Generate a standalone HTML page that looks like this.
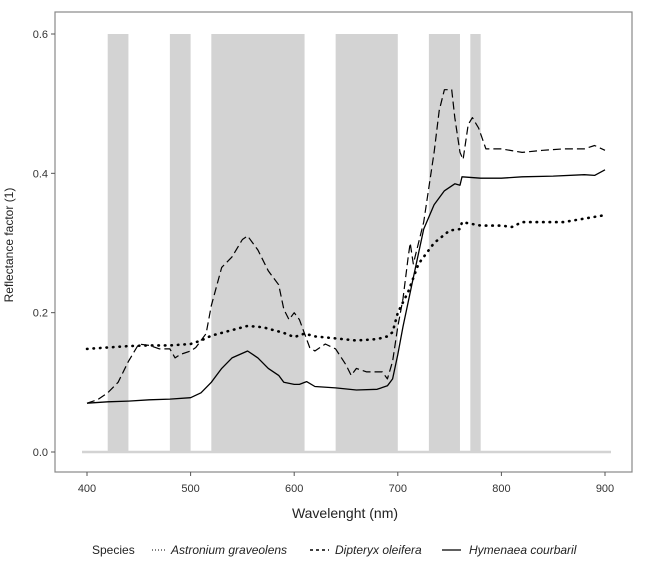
<!DOCTYPE html>
<html><head><meta charset="utf-8"><style>
body{margin:0;background:#fff;}
svg{display:block;font-family:"Liberation Sans",sans-serif;}
</style></head><body>
<svg id="chart" width="645" height="564" viewBox="0 0 645 564">
<rect x="55" y="12" width="577" height="460" fill="#fff" stroke="#888" stroke-width="1.2"/>
<g id="bands"></g>
<g id="axes"></g>
<g id="series"></g>
<text x="345" y="518" font-size="14" text-anchor="middle" fill="#222">Wavelenght (nm)</text>
<text transform="translate(13,245) rotate(-90)" font-size="12" text-anchor="middle" fill="#222">Reflectance factor (1)</text>
<g font-size="12" fill="#222">
<text x="92" y="554">Species</text>
<g>
<line x1="152" y1="550" x2="167" y2="550" stroke="#000" stroke-width="1" stroke-dasharray="1 2"/>
<text x="171" y="554" font-style="italic">Astronium graveolens</text></g>
<g>
<line x1="310" y1="550" x2="329" y2="550" stroke="#000" stroke-width="1.5" stroke-dasharray="3 3"/>
<text x="335" y="554" font-style="italic">Dipteryx oleifera</text></g>
<g>
<line x1="442" y1="550" x2="461" y2="550" stroke="#000" stroke-width="1.3"/>
<text x="469" y="554" font-style="italic">Hymenaea courbaril</text></g>
</g>
</svg>
<script>
const bandStarts=[420,480,520,640,730,770];
const bandEnds=[440,500,610,700,760,780];
const xTicks=[400,500,600,700,800,900];
const yTicks=[0,0.2,0.4,0.6];
const yTickLabels=["0.0","0.2","0.4","0.6"];
const dotWl=[400,420,440,460,480,500,510,520,540,555,570,580,590,600,610,620,640,660,680,690,695,700,705,710,720,735,750,760,762,780,800,810,820,840,860,880,900];
const dotVal=[0.148,0.15,0.152,0.153,0.153,0.155,0.16,0.167,0.175,0.181,0.179,0.175,0.171,0.165,0.17,0.166,0.163,0.16,0.162,0.166,0.172,0.2,0.215,0.23,0.27,0.3,0.318,0.32,0.33,0.325,0.325,0.323,0.33,0.33,0.33,0.335,0.34];
const dashWl=[400,410,420,430,440,450,460,470,480,485,490,500,505,515,520,530,540,550,555,565,575,585,590,595,600,605,615,620,630,640,650,655,660,670,685,690,695,700,705,710,712,715,720,725,735,740,745,752,755,760,763,768,772,778,785,800,820,840,860,880,890,900];
const dashVal=[0.07,0.075,0.085,0.1,0.13,0.155,0.153,0.148,0.148,0.135,0.14,0.145,0.15,0.17,0.21,0.265,0.28,0.305,0.31,0.29,0.26,0.24,0.205,0.19,0.2,0.19,0.15,0.145,0.155,0.148,0.125,0.11,0.12,0.115,0.115,0.105,0.13,0.18,0.22,0.28,0.3,0.27,0.3,0.33,0.43,0.49,0.52,0.52,0.48,0.43,0.42,0.47,0.48,0.465,0.435,0.435,0.43,0.433,0.435,0.435,0.44,0.433];
const solidWl=[400,420,440,460,480,500,510,520,530,540,555,565,575,585,590,600,605,612,620,640,660,680,690,695,700,705,715,725,735,745,755,760,762,780,800,820,850,880,890,900];
const solidVal=[0.07,0.072,0.073,0.075,0.076,0.078,0.085,0.1,0.12,0.135,0.145,0.135,0.12,0.11,0.1,0.097,0.097,0.101,0.094,0.092,0.089,0.09,0.095,0.105,0.14,0.18,0.25,0.32,0.355,0.375,0.385,0.383,0.395,0.393,0.393,0.395,0.396,0.398,0.397,0.405];
const NS="http://www.w3.org/2000/svg";
const xs=v=>87+(v-400)*(605-87)/500;
const ys=v=>452-v*(452-34)/0.6;
function mk(tag,attrs,parent){const e=document.createElementNS(NS,tag);for(const k in attrs)e.setAttribute(k,attrs[k]);parent.appendChild(e);return e;}
const bands=document.getElementById('bands');
bandStarts.forEach((s,i)=>{
 const r=mk('rect',{x:xs(s),y:ys(0.6),width:xs(bandEnds[i])-xs(s),height:ys(0)-ys(0.6),fill:'#d3d3d3'},bands);
 
 
});
const base=mk('line',{x1:82,x2:611,y1:ys(0),y2:ys(0),stroke:'#d3d3d3','stroke-width':2.5},bands);


const axes=document.getElementById('axes');
xTicks.forEach(t=>{
 mk('line',{x1:xs(t),x2:xs(t),y1:472,y2:476,stroke:'#555'},axes);
 const tx=mk('text',{x:xs(t),y:492,'font-size':11,'text-anchor':'middle',fill:'#333'},axes);
 tx.textContent=t;
 
 
});
yTicks.forEach((t,i)=>{
 mk('line',{x1:51,x2:55,y1:ys(t),y2:ys(t),stroke:'#555'},axes);
 const tx=mk('text',{x:48,y:ys(t)+4,'font-size':11,'text-anchor':'end',fill:'#333'},axes);
 tx.textContent=yTickLabels[i];
 
 
});
const ser=document.getElementById('series');
function line(wl,val,style,name){
 const d=wl.map((w,i)=>(i?'L':'M')+xs(w).toFixed(1)+','+ys(val[i]).toFixed(1)).join('');
 const p=mk('path',Object.assign({d:d,fill:'none',stroke:'#000','stroke-linejoin':'round'},style),ser);
 
 
}
line(dotWl,dotVal,{'stroke-width':2.6,'stroke-dasharray':'0.5 6','stroke-linecap':'round'},'series-dotted');
line(dashWl,dashVal,{'stroke-width':1.2,'stroke-dasharray':'8 4'},'series-dashed');
line(solidWl,solidVal,{'stroke-width':1.3},'series-solid');
</script>
</body></html>
